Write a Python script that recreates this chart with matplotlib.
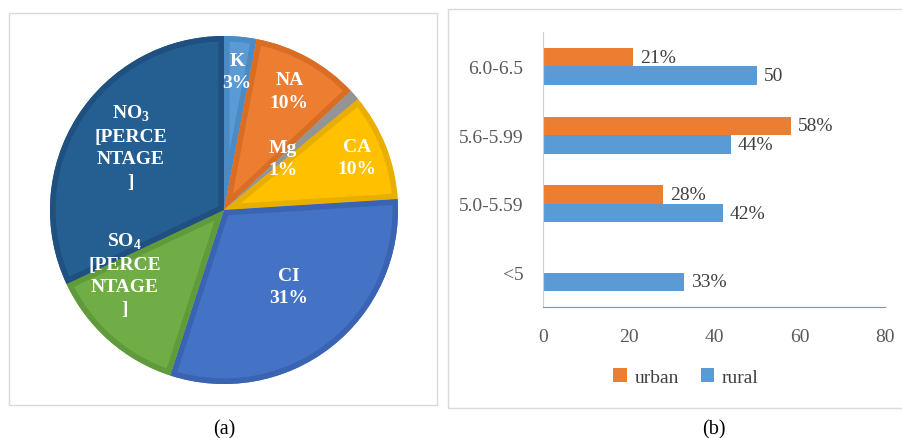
"""
Ion share pie (a) and pH class bar chart (b)
"""
import numpy as np
import matplotlib.pyplot as plt
from matplotlib.patches import Wedge, Rectangle

plt.rcParams['font.family'] = ['Liberation Serif', 'DejaVu Serif']
plt.rcParams['mathtext.fontset'] = 'custom'
plt.rcParams['mathtext.rm'] = 'Liberation Serif'
plt.rcParams['mathtext.bf'] = 'Liberation Serif:bold'

W, H = 903, 439

# ---- data -------------------------------------------------------------
ions = ["K", "NA", "Mg", "CA", "CI", "SO$_\\mathbf{4}$", "NO$_\\mathbf{3}$"]
ion_share = [3, 10, 1, 10, 31, 13, 32]
ion_value_text = ["3%", "10%", "1%", "10%", "31%",
                  "[PERCE\nNTAGE\n]", "[PERCE\nNTAGE\n]"]

ph_classes = ["6.0-6.5", "5.6-5.99", "5.0-5.59", "<5"]
urban = [21, 58, 28, 0]
rural = [50, 44, 42, 33]
urban_text = ["21%", "58%", "28%", ""]
rural_text = ["50", "44%", "42%", "33%"]

# ---- styling ----------------------------------------------------------
PIE_COLORS = ["#5b9bd5", "#ed7d31", "#a5a5a5", "#ffc000",
              "#4472c4", "#70ad47", "#255e91"]
PIE_EDGES = ["#4a8bc6", "#d96d24", "#949494", "#e8ae00",
             "#3a64b2", "#5f9a3b", "#1f5080"]
LABEL_R = [0.80, 0.78, 0.45, 0.82, 0.575, 0.68, 0.65]
LABEL_SHIFT = [0, 0, 0, 0, 2.5, -16, -2]  # degrees
URBAN = "#ed7d31"
RURAL = "#5b9bd5"
TXT = "#404040"


def px(x0, y0, x1, y1):
    """pixel box (top-left origin) -> figure fraction rect"""
    return [x0 / W, 1 - y1 / H, (x1 - x0) / W, (y1 - y0) / H]


fig = plt.figure(figsize=(W / 100, H / 100), dpi=100)

# panel frames
for rect in [px(9, 14, 437, 406), px(448, 10, 910, 409)]:
    fig.patches.append(Rectangle((rect[0], rect[1]), rect[2], rect[3],
                                 transform=fig.transFigure, fill=False,
                                 edgecolor="#d9d9d9", linewidth=1))

# ---- (a) pie ------------------------------------------------------------
cx, cy, r = 224, 211, 174
ax1 = fig.add_axes(px(cx - r, cy - r, cx + r, cy + r))
wedges, _ = ax1.pie(ion_share, colors=PIE_COLORS, startangle=90,
                    counterclock=False, radius=1,
                    wedgeprops={"linewidth": 0})
for w, ec in zip(wedges, PIE_EDGES):
    rim = Wedge(w.center, w.r, w.theta1, w.theta2, facecolor="none",
                edgecolor=ec, linewidth=8)
    ax1.add_patch(rim)
    rim.set_clip_path(w)

for i, w in enumerate(wedges):
    ang = np.deg2rad((w.theta1 + w.theta2) / 2 + LABEL_SHIFT[i])
    ax1.text(LABEL_R[i] * np.cos(ang), LABEL_R[i] * np.sin(ang),
             ions[i] + "\n" + ion_value_text[i], ha="center", va="center",
             color="white", fontsize=14, fontweight="bold",
             linespacing=1.4)
ax1.set_xlim(-1, 1)
ax1.set_ylim(-1, 1)
ax1.set_aspect("equal")
ax1.axis("off")

# ---- (b) bars -----------------------------------------------------------
ax2 = fig.add_axes(px(543, 33, 885, 308))
y = np.arange(len(ph_classes))
h = 0.27
b_u = ax2.barh(y - h / 2, urban, height=h, color=URBAN, label="urban")
b_r = ax2.barh(y + h / 2, rural, height=h, color=RURAL, label="rural")
for bars, texts in [(b_u, urban_text), (b_r, rural_text)]:
    for bar, t in zip(bars, texts):
        if not t:
            continue
        ax2.annotate(t, (bar.get_width(), bar.get_y() + bar.get_height() / 2),
                     xytext=(5, 0), textcoords="offset points",
                     ha="left", va="center", fontsize=14, color=TXT)

ax2.set_xlim(0, 80)
ax2.set_ylim(len(ph_classes) - 0.5, -0.5)
ax2.set_xticks([0, 20, 40, 60, 80])
ax2.set_yticks(y)
ax2.set_yticklabels(ph_classes)
ax2.tick_params(axis="both", length=0, labelsize=14, colors="#595959")
ax2.tick_params(axis="y", pad=14)
ax2.tick_params(axis="x", pad=15)
for s in ["top", "right"]:
    ax2.spines[s].set_visible(False)
ax2.spines["left"].set_color("#d0d0d0")
ax2.spines["bottom"].set_color("#5b9bd5")

fig.legend(handles=[b_u, b_r], labels=["urban", "rural"], loc="center",
           bbox_to_anchor=(686 / W, 1 - 378 / H), ncol=2, frameon=False,
           fontsize=14, handlelength=0.7, handleheight=0.7,
           handletextpad=0.4, columnspacing=1.1, labelcolor=TXT)

# captions
fig.text(224 / W, 1 - 430 / H, "(a)", ha="center", va="center", fontsize=14.5)
fig.text(714 / W, 1 - 430 / H, "(b)", ha="center", va="center", fontsize=14.5)

fig.savefig("out.png", dpi=100)
